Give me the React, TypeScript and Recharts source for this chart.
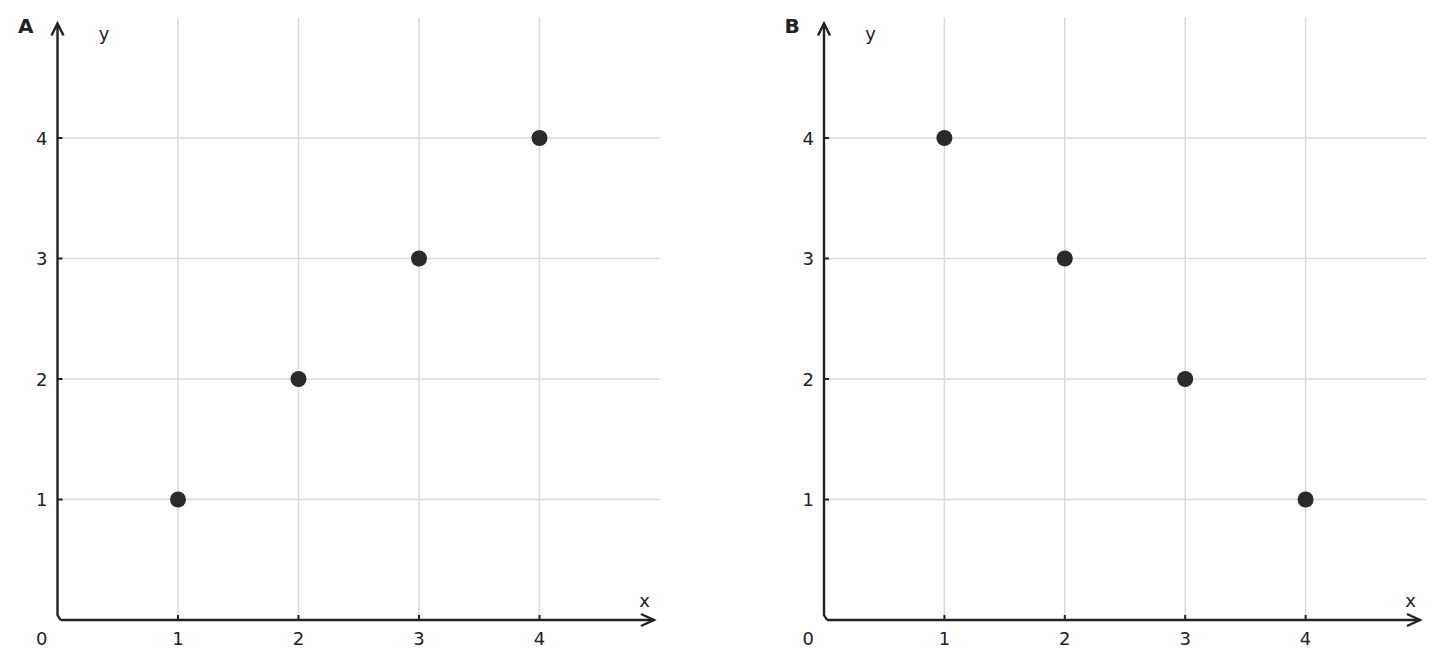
import React from "react";
import {
  ScatterChart,
  Scatter,
  XAxis,
  YAxis,
  ReferenceLine,
} from "recharts";

const xValues = [1, 2, 3, 4];
const yValuesA = [1, 2, 3, 4];
const yValuesB = [4, 3, 2, 1];
const xTicks = [1, 2, 3, 4];
const yTicks = [0, 1, 2, 3, 4];
const gridX = [1, 2, 3, 4];
const gridY = [1, 2, 3, 4];
const domainMax = 5;
const arrowEnd = 4.95;

const dataA = xValues.map((x, i) => ({ x, y: yValuesA[i] }));
const dataB = xValues.map((x, i) => ({ x, y: yValuesB[i] }));

const INK = "#222222";
const GRID = "#d9d9d9";
const FONT = "'DejaVu Sans', sans-serif";

const XTick = (props: any) => {
  const { x, y, payload } = props;
  return (
    <g>
      <line x1={x} y1={y} x2={x} y2={y - 5} stroke={INK} strokeWidth={2} />
      <text x={x} y={y + 25} textAnchor="middle" fontSize={18} fill={INK} fontFamily={FONT}>
        {payload.value}
      </text>
    </g>
  );
};

const YTick = (props: any) => {
  const { x, y, payload } = props;
  if (payload.value === 0) {
    return (
      <text x={x - 10} y={y + 25} textAnchor="end" fontSize={18} fill={INK} fontFamily={FONT}>
        0
      </text>
    );
  }
  return (
    <g>
      <line x1={x} y1={y} x2={x + 5} y2={y} stroke={INK} strokeWidth={2} />
      <text x={x - 10} y={y + 6.5} textAnchor="end" fontSize={18} fill={INK} fontFamily={FONT}>
        {payload.value}
      </text>
    </g>
  );
};

const makeYArrow = (panel: string) => (props: any) => {
  const { x1, y1, y2 } = props;
  const bottom = Math.max(y1, y2);
  const tip = Math.min(y1, y2);
  const ax = x1;
  return (
    <g>
      <polyline
        points={`${ax + 3},${bottom} ${ax},${bottom - 5} ${ax},${tip}`}
        fill="none"
        stroke={INK}
        strokeWidth={2.4}
      />
      <polyline
        points={`${ax - 6},${tip + 12} ${ax},${tip} ${ax + 6},${tip + 12}`}
        fill="none"
        stroke={INK}
        strokeWidth={2.4}
      />
      <text x={ax + 46.5} y={tip + 16} textAnchor="middle" fontSize={18} fill={INK} fontFamily={FONT}>
        y
      </text>
      <text x={ax - 39.5} y={tip + 9.5} fontSize={20} fontWeight="bold" fill={INK} fontFamily={FONT}>
        {panel}
      </text>
    </g>
  );
};

const XArrow = (props: any) => {
  const { x1, y1, x2 } = props;
  const left = Math.min(x1, x2);
  const tip = Math.max(x1, x2);
  const ay = y1;
  return (
    <g>
      <line x1={left + 3} y1={ay} x2={tip} y2={ay} stroke={INK} strokeWidth={2.4} />
      <polyline
        points={`${tip - 13},${ay - 6} ${tip},${ay} ${tip - 13},${ay + 6}`}
        fill="none"
        stroke={INK}
        strokeWidth={2.4}
      />
      <text x={tip - 9.5} y={ay - 13} textAnchor="middle" fontSize={18} fill={INK} fontFamily={FONT}>
        x
      </text>
    </g>
  );
};

const Dot = (props: any) => {
  const { cx, cy } = props;
  return <circle cx={cx} cy={cy} r={8} fill="#2a2a2d" />;
};

const Panel = ({
  data,
  label,
  marginLeft,
  marginRight,
}: {
  data: { x: number; y: number }[];
  label: string;
  marginLeft: number;
  marginRight: number;
}) => (
  <ScatterChart
    width={722}
    height={668}
    margin={{ top: 17.5, right: marginRight, bottom: 18, left: marginLeft }}
  >
    <XAxis
      type="number"
      dataKey="x"
      domain={[0, domainMax]}
      ticks={xTicks}
      interval={0}
      height={30}
      axisLine={false}
      tickLine={false}
      tickSize={0}
      tickMargin={0}
      tick={XTick}
      allowDataOverflow
    />
    <YAxis
      type="number"
      dataKey="y"
      domain={[0, domainMax]}
      ticks={yTicks}
      interval={0}
      width={40}
      axisLine={false}
      tickLine={false}
      tickSize={0}
      tickMargin={0}
      tick={YTick}
      allowDataOverflow
    />
    {gridX.map((v) => (
      <ReferenceLine key={`gx${v}`} x={v} stroke={GRID} strokeWidth={1.5} />
    ))}
    {gridY.map((v) => (
      <ReferenceLine key={`gy${v}`} y={v} stroke={GRID} strokeWidth={1.5} />
    ))}
    <ReferenceLine
      segment={[
        { x: 0, y: 0 },
        { x: 0, y: arrowEnd },
      ]}
      shape={makeYArrow(label)}
    />
    <ReferenceLine
      segment={[
        { x: 0, y: 0 },
        { x: arrowEnd, y: 0 },
      ]}
      shape={XArrow}
    />
    <Scatter data={data} shape={Dot} isAnimationActive={false} />
  </ScatterChart>
);

export default function App() {
  return (
    <div style={{ position: "absolute", left: 0, top: 0, width: 1444, height: 668, background: "#fff" }}>
      <div style={{ position: "absolute", left: 0, top: 0 }}>
        <Panel data={dataA} label="A" marginLeft={17.5} marginRight={62} />
      </div>
      <div style={{ position: "absolute", left: 722, top: 0 }}>
        <Panel data={dataB} label="B" marginLeft={62} marginRight={18} />
      </div>
    </div>
  );
}
